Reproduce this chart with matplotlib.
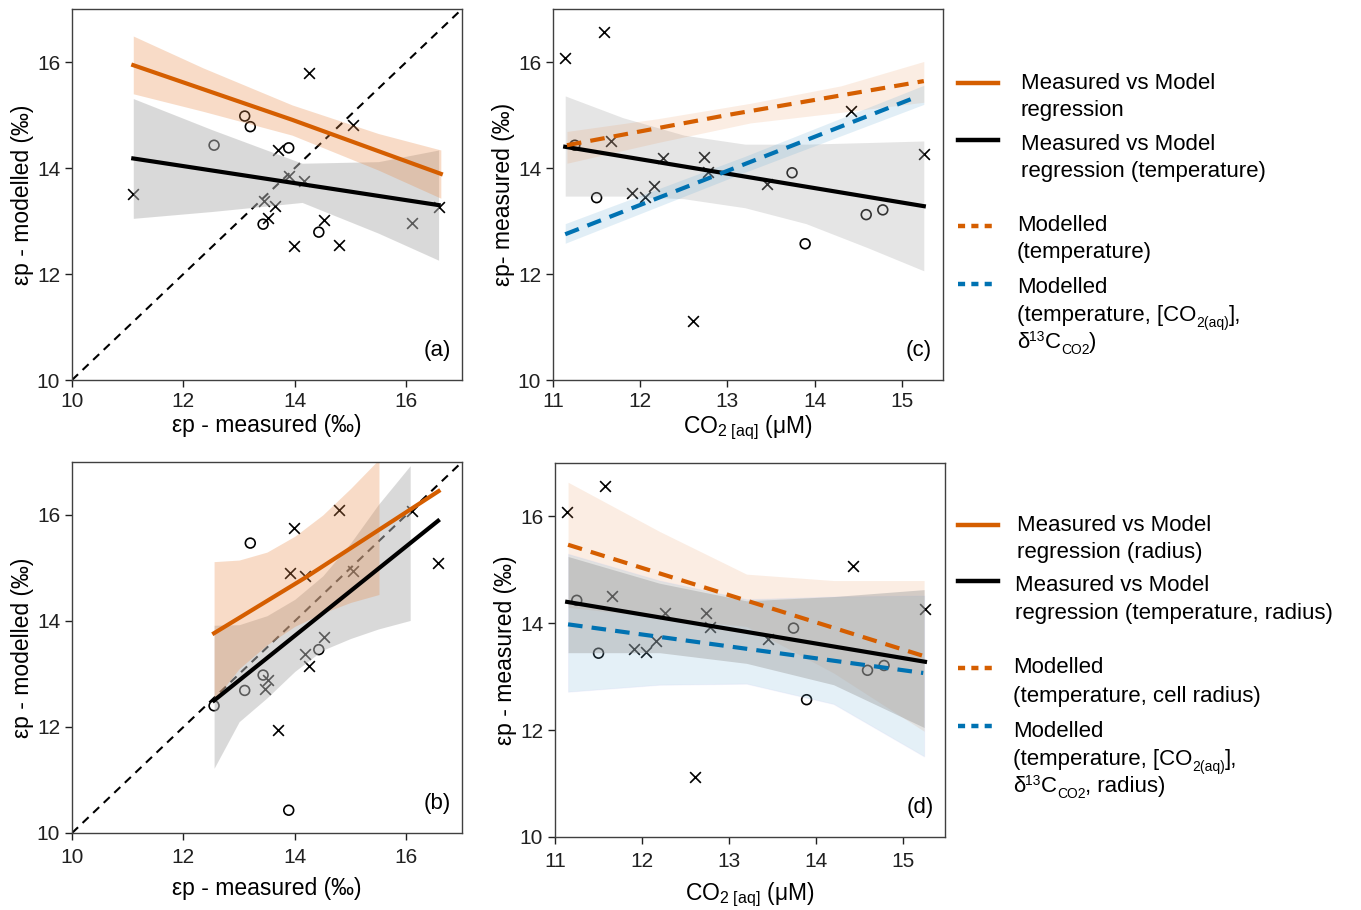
import matplotlib.pyplot as plt
from matplotlib.lines import Line2D

plt.rcParams["font.family"] = ["Liberation Sans", "DejaVu Sans"]
plt.rcParams["mathtext.fontset"] = "custom"
plt.rcParams["mathtext.rm"] = "Liberation Sans"
plt.rcParams["mathtext.it"] = "Liberation Sans:italic"
plt.rcParams["mathtext.bf"] = "Liberation Sans:bold"

ORANGE = "#d55e00"
BLUE = "#0072b2"

# ---- panel (a): modelled (temperature) vs measured ----
a_meas_x = [11.10, 14.26, 15.05, 13.70, 13.89, 14.17, 13.45, 13.64, 13.52, 14.52, 13.98, 14.79, 16.10, 16.58]
a_mod_x = [13.51, 15.80, 14.82, 14.34, 13.84, 13.75, 13.38, 13.28, 13.05, 13.02, 12.53, 12.55, 12.97, 13.26]
a_meas_o = [13.10, 13.20, 12.55, 13.89, 13.43, 14.43]
a_mod_o = [14.98, 14.78, 14.43, 14.38, 12.94, 12.79]

a_or_x = [11.10, 13.95, 16.62]
a_or_y = [15.94, 14.91, 13.89]
a_or_band_x = [11.10, 12.35, 13.95, 15.5, 16.62]
a_or_up = [16.49, 15.89, 15.19, 14.65, 14.34]
a_or_lo = [15.40, 15.07, 14.62, 13.96, 13.43]

a_bk_x = [11.10, 16.58]
a_bk_y = [14.18, 13.30]
a_bk_band_x = [11.10, 12.52, 14.13, 15.5, 16.58]
a_bk_up = [15.31, 14.72, 14.09, 14.12, 14.34]
a_bk_lo = [13.05, 13.18, 13.35, 12.77, 12.26]

# ---- panel (b): modelled (temperature, radius) vs measured ----
b_meas_x = [13.98, 14.79, 13.92, 14.18, 16.11, 16.57, 15.05, 14.52, 14.19, 14.26, 13.52, 13.46, 13.70]
b_mod_x = [15.76, 16.10, 14.90, 14.84, 16.07, 15.09, 14.95, 13.70, 13.38, 13.16, 12.88, 12.72, 11.95]
b_meas_o = [13.20, 14.43, 13.43, 13.10, 12.55, 13.89]
b_mod_o = [15.47, 13.46, 12.98, 12.69, 12.40, 10.43]

b_or_x = [12.55, 14.19, 16.58]
b_or_y = [13.77, 14.82, 16.45]
b_or_band_x = [12.55, 13.0, 13.5, 14.0, 14.5, 15.0, 15.51]
b_or_up = [15.12, 15.15, 15.30, 15.60, 16.00, 16.50, 17.05]
b_or_lo = [12.50, 13.10, 13.55, 13.90, 14.15, 14.35, 14.50]

b_bk_x = [12.55, 16.57]
b_bk_y = [12.50, 15.89]
b_bk_band_x = [12.55, 13.0, 13.5, 14.0, 14.5, 15.0, 15.5, 16.07]
b_bk_up = [13.92, 13.93, 14.10, 14.41, 14.85, 15.47, 16.20, 16.93]
b_bk_lo = [11.22, 12.10, 12.55, 13.05, 13.45, 13.67, 13.85, 14.01]

# ---- panels (c) and (d): measured vs CO2(aq) ----
co2_x = [11.14, 11.58, 11.66, 12.26, 12.73, 12.78, 11.91, 12.05, 12.16, 13.45, 14.42, 15.25, 12.61]
ep_x = [16.08, 16.57, 14.51, 14.19, 14.20, 13.93, 13.52, 13.46, 13.66, 13.70, 15.07, 14.26, 11.12]
co2_o = [11.25, 11.50, 13.74, 13.89, 14.59, 14.78]
ep_o = [14.43, 13.44, 13.91, 12.57, 13.12, 13.21]

bk_x = [11.14, 15.25]
bk_y = [14.40, 13.28]

c_bk_band_x = [11.14, 11.8, 12.5, 13.2, 13.9, 14.6, 15.25]
c_bk_up = [15.36, 14.95, 14.62, 14.45, 14.45, 14.48, 14.51]
c_bk_lo = [13.47, 13.47, 13.42, 13.25, 12.95, 12.50, 12.06]
c_or_x = [11.16, 13.0, 15.25]
c_or_y = [14.43, 15.00, 15.64]
c_or_band_x = [11.16, 12.2, 13.26, 14.3, 15.25]
c_or_up = [14.69, 14.93, 15.22, 15.55, 16.01]
c_or_lo = [14.09, 14.48, 14.85, 15.05, 15.24]
c_bl_x = [11.14, 15.12]
c_bl_y = [12.75, 15.31]
c_bl_band_x = [11.14, 13.2, 15.25]
c_bl_up = [12.95, 14.22, 15.56]
c_bl_lo = [12.58, 13.92, 15.20]

d_band_x = [11.15, 12.2, 13.2, 14.2, 15.24]
d_or_x = [11.15, 15.23]
d_or_y = [15.47, 13.39]
d_or_up = [16.64, 15.72, 14.92, 14.80, 14.80]
d_or_lo = [14.30, 14.11, 13.94, 13.07, 11.98]
d_bk_up = [15.25, 14.75, 14.42, 14.50, 14.63]
d_bk_lo = [13.45, 13.45, 13.25, 12.85, 12.05]
d_bl_x = [11.15, 15.23]
d_bl_y = [13.98, 13.07]
d_bl_up = [15.30, 14.80, 14.45, 14.50, 14.52]
d_bl_lo = [12.72, 12.85, 12.87, 12.49, 11.51]

W, H = 1361, 910
fig = plt.figure(figsize=(W / 100, H / 100), dpi=100)
fig.patch.set_facecolor("white")

TICK_FS = 15
LABEL_FS = 16.5


def style_axes(ax, xlim, xticks):
    ax.set_xlim(*xlim)
    ax.set_ylim(10, 17)
    ax.set_xticks(xticks)
    ax.set_yticks([10, 12, 14, 16])
    for s in ax.spines.values():
        s.set_color("#404040")
        s.set_linewidth(1.0)
    ax.tick_params(direction="out", length=5, width=1, labelsize=TICK_FS, colors="#202020")


def scatter_pts(ax, xx, yx, xo, yo):
    ax.scatter(xx, yx, marker="x", s=60, c="black", linewidths=1.2, zorder=1)
    ax.scatter(xo, yo, marker="o", s=50, facecolors="none", edgecolors="black",
               linewidths=1.2, zorder=1)


dash_mod = (0, (3.5, 2.2))
co2_label = r"CO$_{\mathrm{2\ [aq]}}$ (μM)"

# panel (a)
ax = fig.add_axes([72 / W, 1 - 380 / H, 390 / W, 371 / H])
scatter_pts(ax, a_meas_x, a_mod_x, a_meas_o, a_mod_o)
ax.plot([10, 17], [10, 17], color="black", ls=(0, (4, 3)), lw=1.5, zorder=1.5)
ax.fill_between(a_bk_band_x, a_bk_lo, a_bk_up, color="#b5b5b5", alpha=0.5, lw=0, zorder=2)
ax.fill_between(a_or_band_x, a_or_lo, a_or_up, color="#e88a48", alpha=0.3, lw=0, zorder=2)
ax.plot(a_or_x, a_or_y, color=ORANGE, lw=3, zorder=3)
ax.plot(a_bk_x, a_bk_y, color="black", lw=3, zorder=3)
style_axes(ax, (10, 17), [10, 12, 14, 16])
ax.set_xlabel("εp - measured (‰)", fontsize=LABEL_FS, labelpad=2)
ax.set_ylabel("εp - modelled (‰)", fontsize=LABEL_FS, labelpad=2)
ax.text(0.972, 0.05, "(a)", transform=ax.transAxes, ha="right", va="bottom", fontsize=16)

# panel (c)
ax = fig.add_axes([553 / W, 1 - 380 / H, 390 / W, 371 / H])
scatter_pts(ax, co2_x, ep_x, co2_o, ep_o)
ax.fill_between(c_bk_band_x, c_bk_lo, c_bk_up, color="#aaaaaa", alpha=0.3, lw=0, zorder=2)
ax.fill_between(c_or_band_x, c_or_lo, c_or_up, color="#e88a48", alpha=0.15, lw=0, zorder=2)
ax.fill_between(c_bl_band_x, c_bl_lo, c_bl_up, color="#6baed6", alpha=0.2, lw=0, zorder=2)
ax.plot(bk_x, bk_y, color="black", lw=3, zorder=3)
ax.plot(c_or_x, c_or_y, color=ORANGE, lw=3, ls=dash_mod, zorder=3)
ax.plot(c_bl_x, c_bl_y, color=BLUE, lw=3, ls=dash_mod, zorder=3)
style_axes(ax, (11, 15.47), [11, 12, 13, 14, 15])
ax.set_xlabel(co2_label, fontsize=LABEL_FS, labelpad=2)
ax.set_ylabel("εp- measured (‰)", fontsize=LABEL_FS, labelpad=2)
ax.text(0.972, 0.05, "(c)", transform=ax.transAxes, ha="right", va="bottom", fontsize=16)

# panel (b)
ax = fig.add_axes([72 / W, 1 - 833 / H, 390 / W, 371 / H])
scatter_pts(ax, b_meas_x, b_mod_x, b_meas_o, b_mod_o)
ax.plot([10, 17], [10, 17], color="black", ls=(0, (4, 3)), lw=1.5, zorder=1.5)
ax.fill_between(b_bk_band_x, b_bk_lo, b_bk_up, color="#b5b5b5", alpha=0.5, lw=0, zorder=2)
ax.fill_between(b_or_band_x, b_or_lo, b_or_up, color="#e88a48", alpha=0.3, lw=0, zorder=2)
ax.plot(b_or_x, b_or_y, color=ORANGE, lw=3, zorder=3)
ax.plot(b_bk_x, b_bk_y, color="black", lw=3, zorder=3)
style_axes(ax, (10, 17), [10, 12, 14, 16])
ax.tick_params(axis="x", pad=6)
ax.set_xlabel("εp - measured (‰)", fontsize=LABEL_FS, labelpad=7)
ax.set_ylabel("εp - modelled (‰)", fontsize=LABEL_FS, labelpad=2)
ax.text(0.972, 0.05, "(b)", transform=ax.transAxes, ha="right", va="bottom", fontsize=16)

# panel (d)
ax = fig.add_axes([555 / W, 1 - 837 / H, 390 / W, 374 / H])
scatter_pts(ax, co2_x, ep_x, co2_o, ep_o)
ax.fill_between(d_band_x, d_or_lo, d_or_up, color="#e88a48", alpha=0.15, lw=0, zorder=2)
ax.fill_between(d_band_x, d_bl_lo, d_bl_up, color="#6baed6", alpha=0.18, lw=0.8,
                edgecolor="#c8c8f0", zorder=2)
ax.fill_between(d_band_x, d_bk_lo, d_bk_up, color="#999999", alpha=0.4, lw=0, zorder=2)
ax.plot(bk_x, bk_y, color="black", lw=3, zorder=3)
ax.plot(d_or_x, d_or_y, color=ORANGE, lw=3, ls=dash_mod, zorder=3)
ax.plot(d_bl_x, d_bl_y, color=BLUE, lw=3, ls=dash_mod, zorder=3)
style_axes(ax, (11, 15.48), [11, 12, 13, 14, 15])
ax.tick_params(axis="x", pad=6)
ax.set_xlabel(co2_label, fontsize=LABEL_FS, labelpad=7)
ax.set_ylabel("εp - measured (‰)", fontsize=LABEL_FS, labelpad=2)
ax.text(0.972, 0.05, "(d)", transform=ax.transAxes, ha="right", va="bottom", fontsize=16)


# ---- legends (drawn in figure pixels) ----
renderer = fig.canvas.get_renderer()


def key(y, color, dashed, x0=958, x1=998):
    ls = (0, (1.6, 1.4)) if dashed else "-"
    fig.add_artist(Line2D([x0 / W, x1 / W], [1 - y / H, 1 - y / H], color=color,
                          lw=3.2, ls=ls, transform=fig.transFigure))


def label(x, y, parts):
    # y is the vertical centre of the capitals; text sits on its baseline.
    # parts: (text, fontsize, raise in pixels) written one after another
    if isinstance(parts, str):
        parts = [(parts, 16, 0)]
    xp = x
    for s, size, dy in parts:
        t = fig.text(xp / W, 1 - (y + 8 - dy) / H, s, fontsize=size,
                     ha="left", va="baseline")
        xp += t.get_window_extent(renderer).width


def co2aq_line(prefix):
    return [(prefix + "[CO", 16, 0), ("2(aq)", 10, -6), ("],", 16, 0)]


def d13c_line(suffix):
    return [("δ", 16, 0), ("13", 10, 7), ("C", 16, 0), ("CO2", 10, -6), (suffix, 16, 0)]


key(83, ORANGE, False)
label(1021, 81, "Measured vs Model")
label(1021, 108, "regression")
key(140, "black", False)
label(1021, 142, "Measured vs Model")
label(1021, 169, "regression (temperature)")
key(226, ORANGE, True, x1=993)
label(1017, 223, "Modelled")
label(1017, 250, "(temperature)")
key(284, BLUE, True, x1=993)
label(1017, 285, "Modelled")
label(1017, 313, co2aq_line("(temperature, "))
label(1017, 340, d13c_line(")"))

key(525, ORANGE, False)
label(1017, 523, "Measured vs Model")
label(1017, 550, "regression (radius)")
key(581, "black", False)
label(1015, 583, "Measured vs Model")
label(1015, 611, "regression (temperature, radius)")
key(668, ORANGE, True, x1=993)
label(1013, 665, "Modelled")
label(1013, 694, "(temperature, cell radius)")
key(726, BLUE, True, x1=993)
label(1013, 729, "Modelled")
label(1013, 757, co2aq_line("(temperature, "))
label(1013, 784, d13c_line(", radius)"))

fig.savefig("out.png", dpi=100, facecolor="white")
